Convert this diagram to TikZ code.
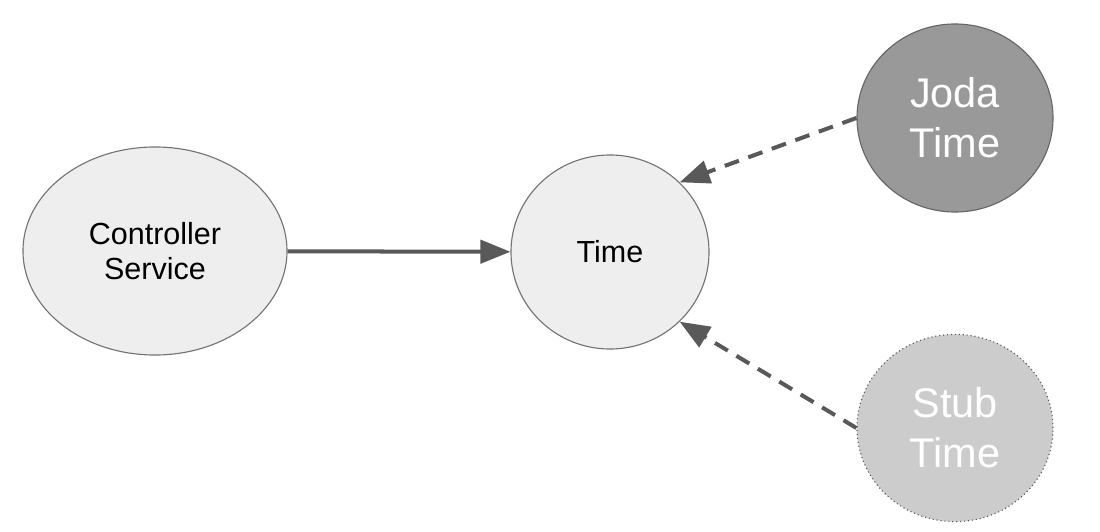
\documentclass[tikz,border=0pt]{standalone}
\usepackage{fontspec}
\setmainfont{Liberation Sans}
\usetikzlibrary{positioning}
\usetikzlibrary{shapes.geometric}
\usetikzlibrary{arrows.meta}
\definecolor{edgegray}{RGB}{89,89,89}
\definecolor{lightfill}{RGB}{238,238,238}
\definecolor{jodafill}{RGB}{153,153,153}
\definecolor{stubfill}{RGB}{204,204,204}

\tikzset{
	bubble/.style={ellipse,inner sep=0pt,align=center,font=\fontsize{21.7}{25}\selectfont},
	lightbubble/.style={bubble,draw=black!55,fill=lightfill,line width=0.8pt},
	bigtext/.style={font=\fontsize{29.5}{35.5}\selectfont,text=white},
	link/.style={line width=2.85pt,color=edgegray,-{Triangle[length=0.75cm,width=0.58cm]}},
	implink/.style={link,dash pattern=on 0.375cm off 0.25cm}
}

\begin{document}
\begin{tikzpicture}[line cap=butt,line join=miter,x=0.025cm,y=-0.025cm]
	\useasboundingbox (0,0) rectangle (1100,532);
	\node[lightbubble,minimum width=6.6cm,minimum height=5.2cm] (ctrl) at (155,251) {Controller\\Service};
	\node[lightbubble,minimum width=4.95cm,minimum height=4.85cm] (time) at (610,252) {Time};
	\node[bubble,bigtext,draw=black!60,fill=jodafill,line width=0.8pt,minimum width=4.9cm,minimum height=4.7cm] (joda) at (955,118) {Joda\\Time};
	\node[bubble,bigtext,draw=black!65,dotted,fill=stubfill,line width=0.8pt,minimum width=4.9cm,minimum height=4.68cm] (stub) at (955,428) {Stub\\Time};
	\draw [link] (ctrl) -- (time);
	\draw [implink] (joda.west) -- (time.45);
	\draw [implink] (stub.west) -- (time.-45);
\end{tikzpicture}
\end{document}
